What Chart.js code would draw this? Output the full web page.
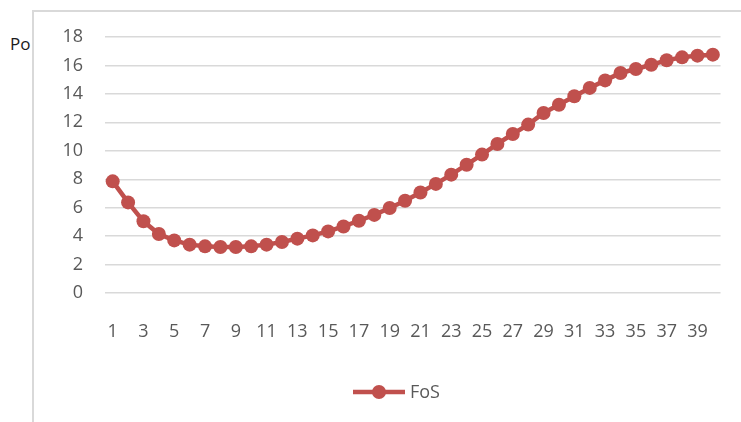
<!DOCTYPE html>
<html>
<head>
<meta charset="utf-8">
<script src="https://cdn.jsdelivr.net/npm/chart.js@4"></script>
<style>
  html, body { margin: 0; padding: 0; background: #fff; }
  #wrap { position: relative; width: 741px; height: 422px; overflow: hidden; }
  #frame { position: absolute; left: 32px; top: 10px; width: 760px; height: 440px;
           border-left: 2px solid #d9d9d9; border-top: 2px solid #d9d9d9; }
  #side { position: absolute; left: 10px; top: 32px; font: 17px "Open Sans", sans-serif; color: #1a1a1a; }
  canvas { position: absolute; left: 0; top: 0; }
</style>
</head>
<body>
<div id="wrap">
  <div id="frame"></div>
  <div id="side">Po</div>
  <canvas id="c" width="741" height="422"></canvas>
</div>
<script>
// Factor of safety along the section
const categories = [];
for (let i = 1; i <= 40; i++) categories.push(String(i));

const seriesName = 'FoS';
const fosValues = [
  7.85, 6.37, 5.04, 4.15, 3.70, 3.40, 3.28, 3.23, 3.23, 3.28,
  3.40, 3.59, 3.82, 4.05, 4.33, 4.68, 5.08, 5.49, 5.98, 6.49,
  7.07, 7.67, 8.32, 9.02, 9.73, 10.48, 11.18, 11.84, 12.66, 13.24,
  13.83, 14.42, 14.95, 15.47, 15.75, 16.05, 16.36, 16.57, 16.69, 16.76
];

const yTicks = [0, 2, 4, 6, 8, 10, 12, 14, 16, 18];

const RED = '#C0504D';
const GREY_TEXT = '#595959';
const FONT = '"Open Sans", sans-serif';

// Legend drawn as line + marker, like the series itself
const lineLegend = {
  id: 'lineLegend',
  afterDraw(chart) {
    const ctx = chart.ctx;
    const ds = chart.data.datasets[0];
    const cx = 379, cy = 392;
    ctx.save();
    ctx.strokeStyle = ds.borderColor;
    ctx.lineWidth = ds.borderWidth;
    ctx.beginPath();
    ctx.moveTo(cx - 26, cy);
    ctx.lineTo(cx + 26, cy);
    ctx.stroke();
    ctx.fillStyle = ds.pointBackgroundColor;
    ctx.beginPath();
    ctx.arc(cx, cy, ds.pointRadius, 0, Math.PI * 2);
    ctx.fill();
    ctx.fillStyle = GREY_TEXT;
    ctx.font = '18px ' + FONT;
    ctx.textBaseline = 'middle';
    ctx.textAlign = 'left';
    ctx.fillText(ds.label, cx + 31, cy + 1);
    ctx.restore();
  }
};

new Chart(document.getElementById('c'), {
  type: 'line',
  data: {
    labels: categories,
    datasets: [{
      label: seriesName,
      data: fosValues,
      borderColor: RED,
      backgroundColor: RED,
      borderWidth: 4.5,
      pointRadius: 7,
      pointHoverRadius: 7,
      pointBackgroundColor: RED,
      pointBorderColor: RED,
      pointBorderWidth: 0,
      tension: 0,
      fill: false
    }]
  },
  options: {
    responsive: false,
    animation: false,
    events: [],
    layout: { padding: { left: 0, right: 13, top: 37, bottom: 68 } },
    plugins: { legend: { display: false }, tooltip: { enabled: false } },
    scales: {
      x: {
        type: 'category',
        offset: true,
        grid: { display: false, drawTicks: false },
        border: { display: false },
        ticks: {
          autoSkip: false,
          maxRotation: 0,
          minRotation: 0,
          padding: 28,
          color: GREY_TEXT,
          font: { family: FONT, size: 18 },
          callback: function (val, idx) {
            return idx % 2 === 0 ? this.getLabelForValue(val) : '';
          }
        },
        afterFit(scale) { scale.height = 61; }
      },
      y: {
        min: 0,
        max: 18,
        afterBuildTicks(scale) { scale.ticks = yTicks.map(v => ({ value: v })); },
        grid: { color: '#d9d9d9', lineWidth: 1.4, drawTicks: false },
        border: { display: false },
        ticks: {
          padding: 22,
          color: GREY_TEXT,
          font: { family: FONT, size: 18 }
        },
        afterFit(scale) { scale.width = 105; }
      }
    }
  },
  plugins: [lineLegend]
});
</script>
</body>
</html>
